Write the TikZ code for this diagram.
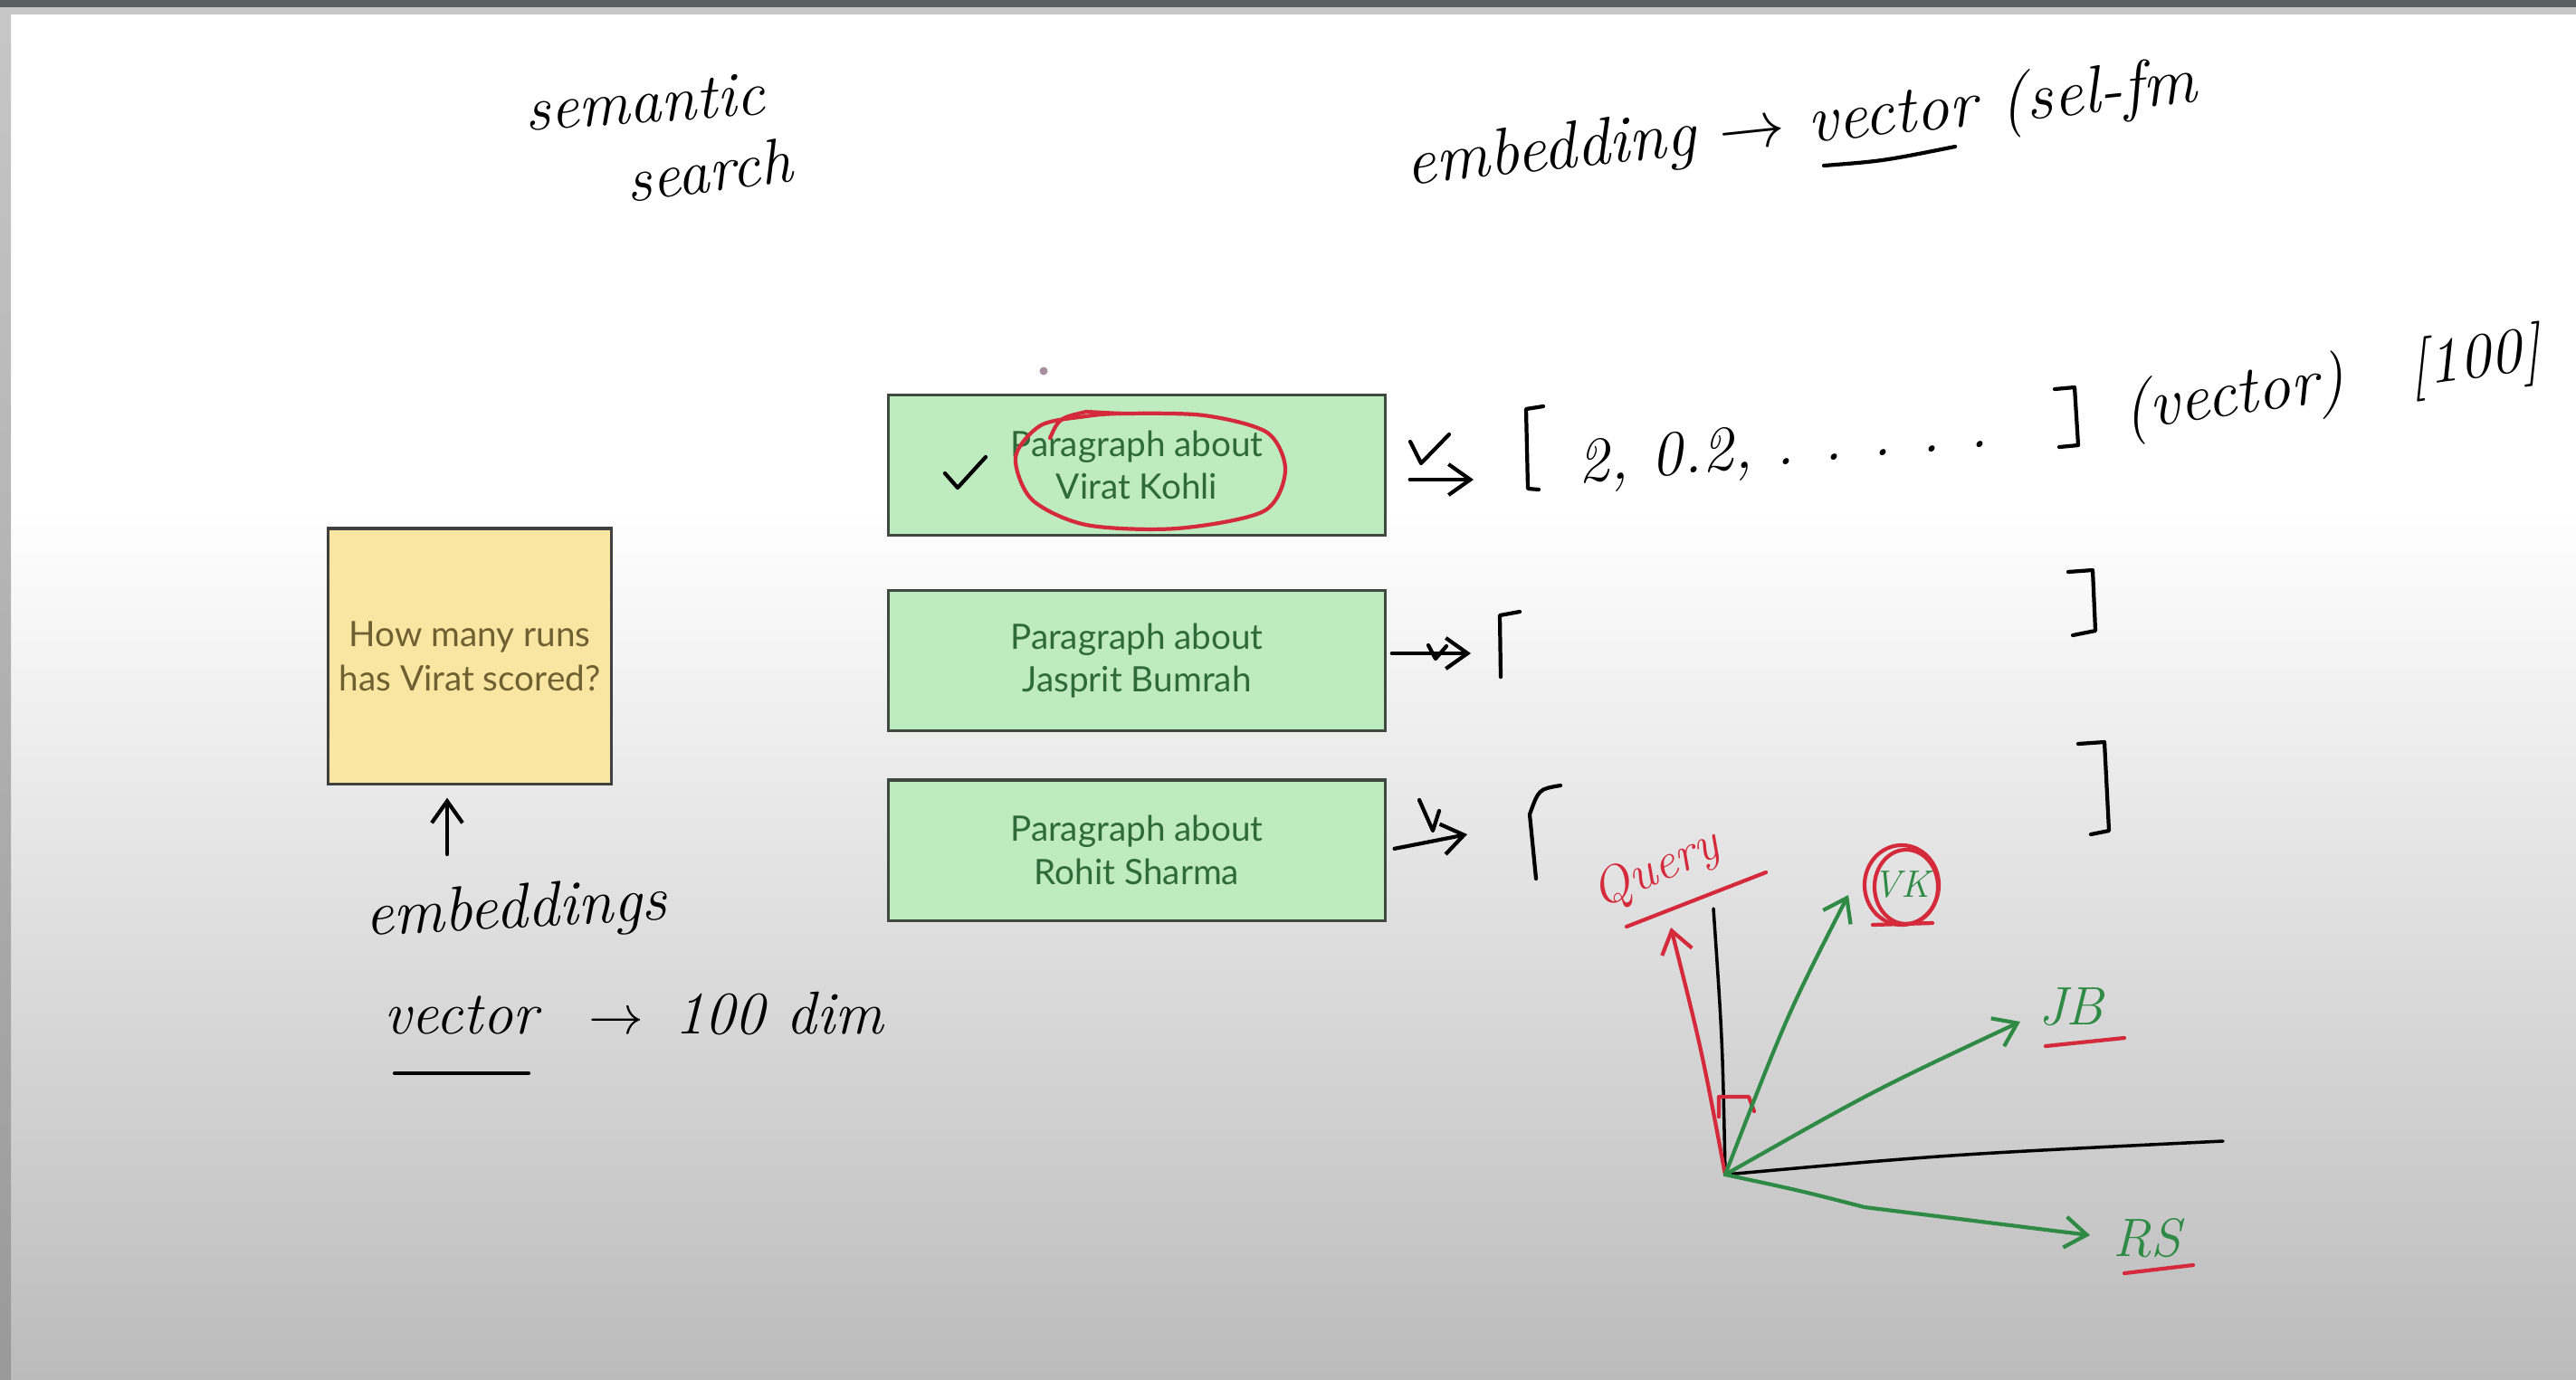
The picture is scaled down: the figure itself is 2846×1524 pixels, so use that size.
\documentclass[tikz,border=0pt]{standalone}
\usepackage{fontspec}
\newfontfamily\cardfont{Lato}
\usepackage{tikz}
\usetikzlibrary{positioning,arrows.meta,calc}
\usepackage{xcolor}
\definecolor{penred}{HTML}{D42A3C}
\definecolor{pengreen}{HTML}{2E8A45}
\definecolor{noteyellow}{HTML}{F9E6A2}
\definecolor{notetext}{HTML}{6E6030}
\definecolor{cardgreen}{HTML}{BFEBC1}
\definecolor{cardtext}{HTML}{2F6B3A}
\definecolor{cardedge}{HTML}{3E4A40}
\definecolor{barink}{HTML}{586060}
\definecolor{boardgray}{HTML}{BBBBBB}
\definecolor{dotmauve}{HTML}{A68E9E}

\tikzset{
  cardbox/.style={draw=cardedge, line width=0.9pt, fill=cardgreen, text=cardtext,
    minimum width=5.48cm, minimum height=1.55cm, align=center,
    font=\cardfont\fontsize{11}{13.5}\selectfont},
  notebox/.style={draw=black!75, line width=0.9pt, fill=noteyellow, text=notetext,
    minimum width=3.12cm, minimum height=2.82cm, align=center,
    font=\cardfont\fontsize{11}{14}\selectfont},
  scrawl/.style={font=\itshape\fontsize{20}{24}\selectfont, inner sep=0pt},
  penline/.style={line width=1.2pt, line cap=round, line join=round},
  penarrow/.style={penline, -{Straight Barb[length=2.4mm,width=3.4mm]}},
}

\begin{document}
\begin{tikzpicture}[x=0.01cm, y=-0.01cm]
        \useasboundingbox (0,0) rectangle (2846,1524);
        \fill[white] (0,0) rectangle (2846,1524);
        \shade[top color=white, bottom color=boardgray] (0,560) rectangle (2846,1524);
        \shade[top color=black!22, bottom color=black!40] (0,0) rectangle (12,1524);
        \fill[black!22] (0,0) rectangle (2846,16);
        \fill[barink] (0,0) rectangle (2846,8);

        \node[scrawl, rotate=4] (semantic) at (712,113) {semantic};
        \node[scrawl, rotate=7] (search) at (783,188) {search};
        \node[scrawl, rotate=6, font=\itshape\fontsize{21}{24}\selectfont] (embnote) at (1990,140)
          {embedding $\to$ vector (sel-fm};
        \draw[penline] (2015,183) .. controls (2080,178) .. (2160,162);

        \node[notebox] (query) at (519,725) {How many runs\\has Virat scored?};
        \node[scrawl, rotate=3] (embed) at (570,1008) {embeddings};
        \node[scrawl, font=\itshape\fontsize{19}{24}\selectfont] (dimnote) at (700,1120)
          {vector \enspace$\to$\enspace 100 dim};
        \draw[penline] (436,1186) -- (584,1186);
        \coordinate (embup) at (494,944);
        \draw[penarrow, shorten >=0.14cm] (embup) -- (query.south -| embup);

        \node[cardbox] (vk) at (1256,514) {Paragraph about\\Virat Kohli};
        \node[cardbox, below=0.58cm of vk] (jb) {Paragraph about\\Jasprit Bumrah};
        \node[cardbox, below=0.51cm of jb] (rs) {Paragraph about\\Rohit Sharma};
        \fill[dotmauve] (1153,410) circle (0.045cm);

        \draw[penline] (1044,523) -- (1058,539) -- (1089,505);
        \draw[penline, penred] plot[smooth cycle] coordinates
          {(1240,457) (1330,459) (1400,478) (1420,520) (1396,565) (1300,584) (1200,580)
           (1140,552) (1122,505) (1150,470) (1200,460)};
        \draw[penline, penred] (1160,484) .. controls (1170,462) .. (1200,455) -- (1238,457);

        \coordinate (vkin) at (1628,530);
        \coordinate (jbin) at (1625,722);
        \coordinate (rsin) at (1621,922);
        \draw[penarrow, shorten <=0.26cm] (vk.east |- vkin) -- (vkin);
        \draw[penline] (1558,488) -- (1570,512) -- (1601,480);
        \draw[penarrow, shorten <=0.06cm] (jb.east |- jbin) -- (jbin);
        \draw[penline] (1578,713) -- (1586,728) -- (1598,714);
        \draw[penarrow, shorten <=0.09cm] (rs.east) -- (rsin);
        \draw[penline] (1568,884) -- (1583,918) -- (1590,896);

        \draw[penline] (1705,449) -- (1686,452) -- (1688,540) -- (1700,541);
        \draw[penline] (2270,430) -- (2292,428) -- (2296,492) -- (2275,494);
        \node[scrawl, rotate=5] (vals) at (1970,497) {2, 0.2, . . . . .};
        \node[scrawl, rotate=8, font=\itshape\fontsize{21}{24}\selectfont] (vecword) at (2468,440) {(vector)};
        \node[scrawl, rotate=8] (dims) at (2734,400) {[100]};

        \draw[penline] (1679,676) -- (1657,680) -- (1658,748);
        \draw[penline] (2285,632) -- (2312,630) -- (2315,697) -- (2290,702);
        \draw[penline] (1724,868) .. controls (1700,872) .. (1690,900) -- (1697,971);
        \draw[penline] (2296,822) -- (2325,820) -- (2330,918) -- (2310,922);

        \coordinate (origin) at (1906,1298);
        \coordinate (yaxis) at (1893,1004);
        \coordinate (xaxis) at (2456,1261);
        \coordinate (qtip) at (1846,1025);
        \coordinate (vktip) at (2042,989);
        \coordinate (jbtip) at (2232,1129);
        \coordinate (rstip) at (2309,1365);
        \draw[line width=1pt, line cap=round] (origin) .. controls (1903,1150) .. (yaxis);
        \draw[line width=1pt, line cap=round] (origin) .. controls (2150,1276) .. (xaxis);
        \draw[penarrow, penred] (origin) .. controls (1880,1160) .. (qtip);
        \draw[penline, penred] (1899,1234) -- (1899,1212) -- (1932,1212) -- (1938,1228);
        \draw[penarrow, pengreen] (origin) .. controls (1975,1120) .. (vktip);
        \draw[penarrow, pengreen] (origin) .. controls (2070,1205) .. (jbtip);
        \draw[penarrow, pengreen] (origin) .. controls (1990,1316) .. (2060,1334) -- (rstip);

        \node[scrawl, penred, rotate=24, font=\itshape\fontsize{16}{20}\selectfont] (qlabel) at (1830,962) {Query};
        \draw[penline, penred] (1797,1024) -- (1951,964);
        \node[scrawl, pengreen, font=\itshape\fontsize{12}{14}\selectfont] (vklabel) at (2101,978) {VK};
        \draw[penline, penred] (vklabel.center) ellipse [x radius=0.41cm, y radius=0.44cm];
        \draw[penline, penred] ($(vklabel.center)+(5,2)$) ellipse [x radius=0.35cm, y radius=0.41cm];
        \draw[penline, penred] (2069,1022) -- (2135,1020);
        \node[scrawl, pengreen, font=\itshape\fontsize{17}{20}\selectfont] (jblabel) at (2288,1113) {JB};
        \draw[penline, penred] (2260,1156) -- (2347,1147);
        \node[scrawl, pengreen, font=\itshape\fontsize{17}{20}\selectfont] (rslabel) at (2372,1368) {RS};
        \draw[penline, penred] (2347,1407) -- (2423,1398);
      \end{tikzpicture}
\end{document}
